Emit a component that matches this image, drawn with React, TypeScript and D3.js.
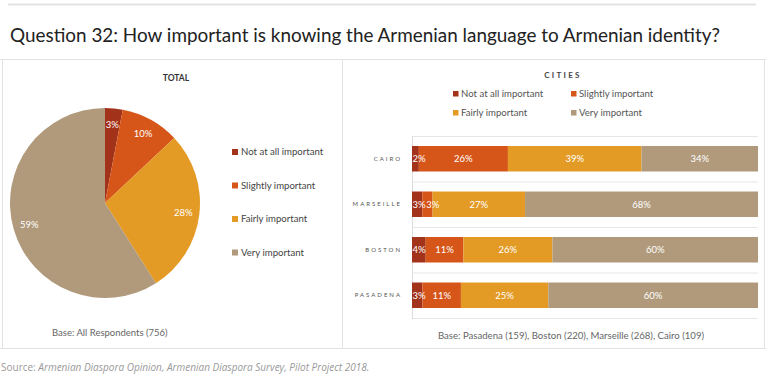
import * as d3 from 'd3';
import { useEffect, useRef } from 'react';

const categories = ['Not at all important', 'Slightly important', 'Fairly important', 'Very important'];
const colors = ['#a3321a', '#d6561a', '#e39b25', '#b09a7b'];
const totalValues = [3, 10, 28, 59];
const cities = ['CAIRO', 'MARSEILLE', 'BOSTON', 'PASADENA'];
const notAtAll = [2, 3, 4, 3];
const slightly = [26, 3, 11, 11];
const fairly = [39, 27, 26, 25];
const very = [34, 68, 60, 60];

const FONT = 'Lato, "Open Sans", sans-serif';

const App = () => {
    const ref = useRef<SVGSVGElement>(null);

    useEffect(() => {
        const svg = d3.select(ref.current);
        svg.selectAll('*').remove();

        // frame lines
        const frame = svg.append('g').attr('stroke', '#e3e3e3').attr('fill', 'none');
        frame.append('line').attr('x1', 8).attr('x2', 756).attr('y1', 4.5).attr('y2', 4.5).attr('stroke-width', 2);
        frame.append('line').attr('x1', 0).attr('x2', 766).attr('y1', 59.5).attr('y2', 59.5);
        frame.append('line').attr('x1', 0).attr('x2', 766).attr('y1', 348.5).attr('y2', 348.5);
        frame.append('line').attr('x1', 342.5).attr('x2', 342.5).attr('y1', 59).attr('y2', 349);
        frame.append('line').attr('x1', 764.5).attr('x2', 764.5).attr('y1', 59).attr('y2', 349);
        frame.append('line').attr('x1', 2.5).attr('x2', 2.5).attr('y1', 59).attr('y2', 349);

        svg.append('text')
            .attr('x', 10).attr('y', 42)
            .attr('font-family', FONT).attr('font-size', 18.9).attr('fill', '#222')
            .text('Question 32: How important is knowing the Armenian language to Armenian identity?');

        // pie
        const cx = 105, cy = 203, r = 95;
        const pie = d3.pie<number>().sort(null).value(d => d);
        const arcs = pie(totalValues);
        const arc = d3.arc<d3.PieArcDatum<number>>().innerRadius(0).outerRadius(r);
        const labelArc = d3.arc<d3.PieArcDatum<number>>().innerRadius(r * 0.83).outerRadius(r * 0.83);
        const pg = svg.append('g').attr('transform', `translate(${cx},${cy})`);
        pg.selectAll('path').data(arcs).enter().append('path')
            .attr('d', arc)
            .attr('fill', (d, i) => colors[i]);
        pg.selectAll('text').data(arcs).enter().append('text')
            .attr('transform', d => `translate(${labelArc.centroid(d)})`)
            .attr('text-anchor', 'middle').attr('dy', '0.35em')
            .attr('font-family', FONT).attr('font-size', 9.5).attr('fill', '#fff')
            .text(d => `${d.data}%`);

        svg.append('text').attr('x', 176).attr('y', 81).attr('text-anchor', 'middle')
            .attr('font-family', FONT).attr('font-size', 8.5).attr('font-weight', 'bold').attr('fill', '#333')
            .text('TOTAL');

        const pl = svg.append('g').selectAll('g').data(categories).enter().append('g')
            .attr('transform', (d, i) => `translate(232, ${152 + i * 33.5})`);
        pl.append('rect').attr('x', 0).attr('y', -3).attr('width', 6).attr('height', 6).attr('fill', (d, i) => colors[i]);
        pl.append('text').attr('x', 9).attr('dy', '0.35em')
            .attr('font-family', FONT).attr('font-size', 9.6).attr('fill', '#444').text(d => d);

        svg.append('text').attr('x', 52).attr('y', 336)
            .attr('font-family', FONT).attr('font-size', 9.5).attr('fill', '#666')
            .text('Base: All Respondents (756)');

        // stacked bars
        const rows = cities.map((c, i) => ({ city: c, a: notAtAll[i], b: slightly[i], c: fairly[i], d: very[i] }));
        const keys = ['a', 'b', 'c', 'd'];
        const stack = d3.stack<any>().keys(keys).offset(d3.stackOffsetExpand);
        const series = stack(rows);
        const x = d3.scaleLinear().domain([0, 1]).range([412, 758]);
        const y = d3.scaleBand().domain(cities).range([136, 318]).paddingInner(0.44).paddingOuter(0.22);

        const grid = svg.append('g').attr('stroke', '#e6e6e6');
        const step = y.step();
        d3.range(cities.length + 1).forEach(i => {
            grid.append('line').attr('x1', 412).attr('x2', 758)
                .attr('y1', 136.5 + i * step).attr('y2', 136.5 + i * step);
        });
        svg.append('line').attr('x1', 412.5).attr('x2', 412.5).attr('y1', 136).attr('y2', 319).attr('stroke', '#dcdcdc');

        const sg = svg.append('g').selectAll('g').data(series).enter().append('g')
            .attr('fill', (d, i) => colors[i]);
        sg.selectAll('rect').data(d => d).enter().append('rect')
            .attr('x', d => x(d[0])).attr('width', d => x(d[1]) - x(d[0]))
            .attr('y', d => y(d.data.city)!).attr('height', y.bandwidth());

        // labels: centred in segment, nudged right so narrow ones don't collide
        const lg = svg.append('g');
        rows.forEach((row, ri) => {
            let prevRight = x(0);
            series.forEach(s => {
                const d = s[ri];
                const t = lg.append('text')
                    .attr('y', y(row.city)! + y.bandwidth() / 2)
                    .attr('dy', '0.35em').attr('text-anchor', 'middle')
                    .attr('font-family', FONT).attr('font-size', 9.5).attr('fill', '#fff')
                    .text(`${row[s.key]}%`);
                const w = (t.node() as SVGTextElement).getComputedTextLength();
                let cxl = (x(d[0]) + x(d[1])) / 2;
                cxl = Math.max(cxl, prevRight + w / 2 + 0.5);
                t.attr('x', cxl);
                prevRight = cxl + w / 2;
            });
        });

        svg.append('g').selectAll('text').data(cities).enter().append('text')
            .attr('x', 402).attr('y', d => y(d)! + y.bandwidth() / 2).attr('dy', '0.35em')
            .attr('text-anchor', 'end').attr('letter-spacing', 2)
            .attr('font-family', FONT).attr('font-size', 6).attr('fill', '#555')
            .text(d => d);

        svg.append('text').attr('x', 563).attr('y', 78).attr('text-anchor', 'middle').attr('letter-spacing', 2.3)
            .attr('font-family', FONT).attr('font-size', 8).attr('font-weight', 'bold').attr('fill', '#444')
            .text('CITIES');

        const cl = svg.append('g').selectAll('g').data(categories).enter().append('g')
            .attr('transform', (d, i) => `translate(${i % 2 === 0 ? 453 : 571}, ${94 + Math.floor(i / 2) * 19})`);
        cl.append('rect').attr('x', 0).attr('y', -3).attr('width', 5.5).attr('height', 5.5).attr('fill', (d, i) => colors[i]);
        cl.append('text').attr('x', 8).attr('dy', '0.35em')
            .attr('font-family', FONT).attr('font-size', 9.6).attr('fill', '#555').text(d => d);

        svg.append('text').attr('x', 571).attr('y', 339).attr('text-anchor', 'middle')
            .attr('font-family', FONT).attr('font-size', 9.6).attr('fill', '#666')
            .text('Base: Pasadena (159), Boston (220), Marseille (268), Cairo (109)');

        const src = svg.append('text').attr('x', 1).attr('y', 371)
            .attr('font-family', '"Open Sans", sans-serif').attr('font-size', 10).attr('fill', '#999');
        src.append('tspan').text('Source: ');
        src.append('tspan').attr('font-style', 'italic')
            .text('Armenian Diaspora Opinion, Armenian Diaspora Survey, Pilot Project 2018.');
    }, []);

    return <svg ref={ref} width="768" height="388" style={{ position: 'absolute', left: 0, top: 0, background: '#fff' }}></svg>;
};

export default App;
